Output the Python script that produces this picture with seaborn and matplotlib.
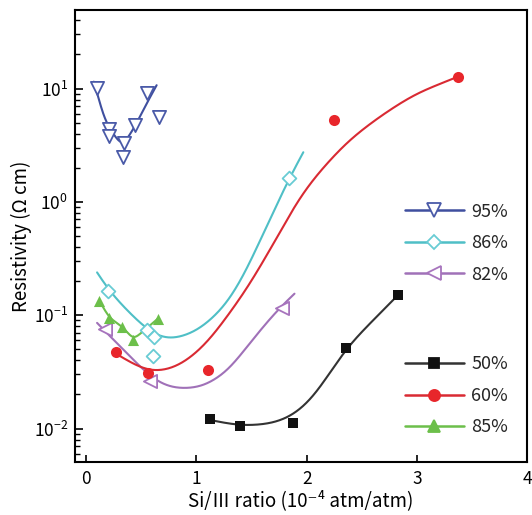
import numpy as np
import pandas as pd
import matplotlib
matplotlib.use("Agg")
import matplotlib.pyplot as plt
from matplotlib.lines import Line2D
from matplotlib.ticker import LogLocator, NullFormatter
import seaborn as sns

# ---- measured resistivity (Ω cm) versus Si/III ratio (1e-4 atm/atm) ----
x95 = [0.10, 0.21, 0.21, 0.34, 0.335, 0.44, 0.55, 0.66]
r95 = [10.1, 4.4, 3.8, 3.3, 2.5, 4.8, 9.2, 5.6]

x86 = [0.20, 0.55, 0.62, 0.61, 1.84]
r86 = [0.164, 0.074, 0.064, 0.044, 1.63]

x82 = [0.17, 0.58, 1.775]
r82 = [0.076, 0.026, 0.116]

x50 = [1.12, 1.40, 1.875, 2.355, 2.83]
r50 = [0.0122, 0.0105, 0.0112, 0.0514, 0.151]

x60 = [0.27, 0.56, 1.11, 2.25, 3.37]
r60 = [0.0474, 0.031, 0.0329, 5.3, 12.7]

x85 = [0.12, 0.21, 0.33, 0.43, 0.65]
r85 = [0.134, 0.095, 0.079, 0.061, 0.093]

# ---- guide-to-the-eye trend curves ----
t95_x = [0.07, 0.17, 0.28, 0.335, 0.44, 0.55, 0.64]
t95_r = [11.5, 5.25, 3.55, 3.16, 4.57, 7.4, 10.7]

t86_x = [0.10, 0.20, 0.37, 0.55, 0.70, 0.85, 1.03, 1.28, 1.46, 1.58, 1.84, 1.97]
t86_r = [0.236, 0.164, 0.111, 0.0741, 0.0605, 0.0631, 0.0741, 0.124, 0.251, 0.462, 1.62, 2.75]

t82_x = [0.10, 0.22, 0.37, 0.58, 0.73, 0.88, 1.06, 1.28, 1.58, 1.76, 1.89]
t82_r = [0.0855, 0.0646, 0.0465, 0.0285, 0.0233, 0.0224, 0.0233, 0.0315, 0.0741, 0.118, 0.155]

t50_x = [1.12, 1.40, 1.68, 1.866, 2.05, 2.17, 2.355, 2.83]
t50_r = [0.0119, 0.01054, 0.01096, 0.01265, 0.01786, 0.02685, 0.0514, 0.151]

t60_x = [0.245, 0.56, 0.67, 0.85, 1.11, 1.30, 1.46, 1.56, 1.77, 1.90, 2.07, 2.37, 2.67, 2.98, 3.37]
t60_r = [0.0474, 0.031, 0.0316, 0.035, 0.0569, 0.105, 0.167, 0.251, 0.555, 1.0, 1.65, 3.45, 5.74, 8.97, 12.7]

t85_x = x85
t85_r = r85

labels = ["95%", "86%", "82%", "50%", "60%", "85%"]


def trend(xs, rs, sigma, n=400):
    """Polyline through the anchors in log-resistivity, rounded by a Gaussian kernel."""
    xs = np.asarray(xs, float)
    ly = np.log10(rs)
    dx = (xs[-1] - xs[0]) / n
    pad = int(np.ceil(3 * sigma / dx))
    xx = np.linspace(xs[0] - pad * dx, xs[-1] + pad * dx, n + 1 + 2 * pad)
    yy = np.interp(xx, xs, ly)
    lo, hi = xx < xs[0], xx > xs[-1]
    yy[lo] = ly[0] + (xx[lo] - xs[0]) * (ly[1] - ly[0]) / (xs[1] - xs[0])
    yy[hi] = ly[-1] + (xx[hi] - xs[-1]) * (ly[-1] - ly[-2]) / (xs[-1] - xs[-2])
    k = np.arange(-pad, pad + 1) * dx
    w = np.exp(-0.5 * (k / sigma) ** 2)
    w /= w.sum()
    ys = np.convolve(yy, w, mode="valid")
    return xx[pad:len(xx) - pad], 10 ** ys


sns.set_theme(style="ticks")
plt.rcParams["font.family"] = ["Noto Sans CJK SC", "DejaVu Sans"]
plt.rcParams["mathtext.fontset"] = "custom"
plt.rcParams["mathtext.rm"] = "Noto Sans CJK SC"
plt.rcParams["mathtext.it"] = "Noto Sans CJK SC"
plt.rcParams["mathtext.bf"] = "Noto Sans CJK SC:bold"

fig = plt.figure(figsize=(5.32, 5.15), dpi=100)
ax = fig.add_axes([0.141, 0.103, 0.85, 0.878])

series = [
    # label, points x, points r, trend x, trend r, smoothing, colour, line colour, marker, size, filled
    ("95%", x95, r95, t95_x, t95_r, 0.03, "#4a5aa8", "#3f4f9f", "v", 9.5, False),
    ("86%", x86, r86, t86_x, t86_r, 0.10, "#69ccd4", "#4fbfc6", "D", 7.0, False),
    ("82%", x82, r82, t82_x, t82_r, 0.09, "#a774bd", "#a071b8", "<", 9.5, False),
    ("50%", x50, r50, t50_x, t50_r, 0.11, "#111111", "#333333", "s", 6.5, True),
    ("60%", x60, r60, t60_x, t60_r, 0.12, "#e8262b", "#d92a33", "o", 8.0, True),
    ("85%", x85, r85, t85_x, t85_r, 0.03, "#6cbf4a", "#6cbf4a", "^", 8.0, True),
]

draw_order = ["86%", "82%", "60%", "50%", "95%", "85%"]
lookup = {s[0]: s for s in series}
for z, key in enumerate(draw_order):
    lab, px, pr, tx, tr, sig, col, lcol, mk, ms, filled = lookup[key]
    cx, cy = trend(tx, tr, sig)
    sns.lineplot(x=cx, y=cy, sort=False, estimator=None, color=lcol,
                 lw=1.5, ax=ax, zorder=2 + z * 0.01)
for z, key in enumerate(draw_order):
    lab, px, pr, tx, tr, sig, col, lcol, mk, ms, filled = lookup[key]
    sns.scatterplot(x=px, y=pr, marker=mk, s=ms ** 2,
                    facecolor=col if filled else "white",
                    edgecolor=col, linewidth=0 if filled else 1.3,
                    ax=ax, zorder=3 + z * 0.01, legend=False)

ax.set_yscale("log")
ax.set_xlim(-0.1, 4.0)
ax.set_ylim(10 ** -2.295, 10 ** 1.695)
ax.set_xticks([0, 1, 2, 3, 4])
ax.yaxis.set_major_locator(LogLocator(base=10, numticks=10))
ax.yaxis.set_minor_locator(LogLocator(base=10, subs=np.arange(2, 10), numticks=20))
ax.yaxis.set_minor_formatter(NullFormatter())

ax.tick_params(axis="both", which="both", direction="in", labelsize=12.5,
               color="black", labelcolor="black")
ax.tick_params(axis="y", which="major", length=6, width=1.2, pad=5)
ax.tick_params(axis="y", which="minor", length=3.5, width=1.0)
ax.tick_params(axis="x", which="major", length=5, width=1.2, pad=6)
for sp in ax.spines.values():
    sp.set_visible(True)
    sp.set_linewidth(1.5)
    sp.set_color("black")

ax.set_xlabel("Si/\u2162 ratio (10\u207b\u2074 atm/atm)", fontsize=13.5, color="black", labelpad=1)
ax.set_ylabel("Resistivity (\u03a9 cm)", fontsize=13.5, color="black", labelpad=1)


def handles(keys):
    hs = []
    for key in keys:
        lab, px, pr, tx, tr, sig, col, lcol, mk, ms, filled = lookup[key]
        hs.append(Line2D([], [], color=lcol, lw=1.8, marker=mk, markersize=ms,
                         markerfacecolor=col if filled else "white",
                         markeredgecolor=col, markeredgewidth=1.3, label=lab))
    return hs


leg_kw = dict(loc="center left", frameon=False, fontsize=13, handlelength=3.3,
              handletextpad=0.4, labelspacing=0.75, borderpad=0, borderaxespad=0)
leg1 = ax.legend(handles=handles(["95%", "86%", "82%"]),
                 bbox_to_anchor=(0.729, 0.484), **leg_kw)
ax.add_artist(leg1)
ax.legend(handles=handles(["50%", "60%", "85%"]),
          bbox_to_anchor=(0.729, 0.146), **leg_kw)

fig.savefig("out.png", dpi=100)
